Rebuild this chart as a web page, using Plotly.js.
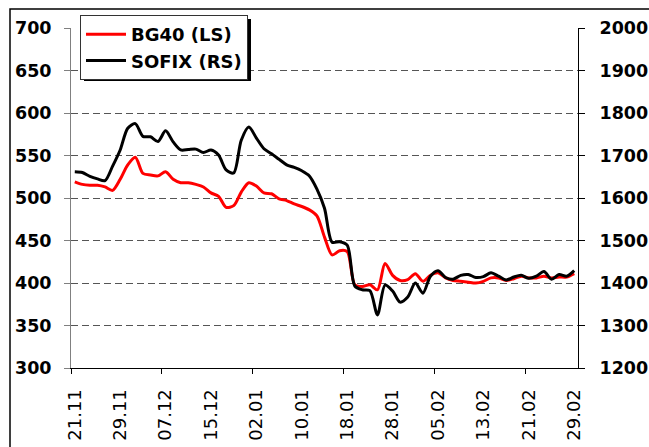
<!DOCTYPE html>
<html><head><meta charset="utf-8">
<script src="https://cdn.plot.ly/plotly-3.0.1.min.js"></script>
<style>html,body{margin:0;padding:0;background:#fff}#chart{width:649px;height:447px}</style>
</head><body><div id="chart"></div>
<script>
// Category labels shown on the axis (every 6th trading day)
const tickLabels = ['21.11','29.11','07.12','15.12','02.01','10.01','18.01','28.01','05.02','13.02','21.02','29.02'];
const tickIndex  = [0, 6, 12, 18, 24, 30, 36, 42, 48, 54, 60, 66];
// Tick marks sit between categories, every 12 trading days
const tickMarkIndex = [-0.5, 11.5, 23.5, 35.5, 47.5, 59.5];

// BG40 index (left scale)
const bg40 = [519, 516, 515, 515, 513, 509, 522, 539, 548, 529, 527, 526,
              531, 522, 518, 518, 516, 513, 506, 502, 489, 491, 507, 518,
              514, 506, 505, 499, 497, 493, 490, 486, 479, 454, 433, 438,
              437, 398, 396, 398, 392, 423, 409, 403, 404, 411, 402, 409,
              412, 406, 403, 402, 401, 400, 402, 406, 406, 403, 405, 408,
              406, 406, 408, 406, 407, 407, 411];
// SOFIX index (right scale)
const sofix = [1662, 1660, 1651, 1645, 1641, 1675, 1713, 1764, 1775, 1745, 1744, 1733,
               1758, 1732, 1713, 1714, 1715, 1707, 1713, 1701, 1666, 1659, 1736, 1767,
               1741, 1716, 1704, 1691, 1678, 1672, 1664, 1652, 1621, 1576, 1496, 1497,
               1489, 1393, 1384, 1382, 1325, 1395, 1381, 1355, 1367, 1400, 1376, 1416,
               1429, 1413, 1409, 1418, 1420, 1413, 1415, 1424, 1416, 1407, 1414, 1418,
               1411, 1416, 1427, 1409, 1420, 1416, 1429];

const idx = bg40.map((_, i) => i);

// plot area in pixels
const L = 71, R = 578, T = 28, B = 368, W = 649, H = 447;
const px = x => (x - L) / (R - L);
const py = y => (B - y) / (B - T);

const fontFam = '"DejaVu Sans", Verdana, sans-serif';
const boldFont = {family: fontFam, size: 17.5, color: '#000', weight: 'bold'};
const legendFont = {family: fontFam, size: 18, color: '#000', weight: 'bold'};

const traces = [
  {x: idx, y: bg40, name: 'BG40 (LS)', type: 'scatter', mode: 'lines',
   line: {color: '#ff0000', width: 3, shape: 'spline', smoothing: 0.8}, xaxis: 'x', yaxis: 'y'},
  {x: idx, y: sofix, name: 'SOFIX (RS)', type: 'scatter', mode: 'lines',
   line: {color: '#000000', width: 3, shape: 'spline', smoothing: 0.8}, xaxis: 'x', yaxis: 'y2'}
];

const layout = {
  width: W, height: H,
  margin: {l: L, r: W - R, t: T, b: H - B},
  paper_bgcolor: '#fff', plot_bgcolor: '#fff',
  showlegend: true,
  legend: {x: px(80), y: py(15), xanchor: 'left', yanchor: 'top',
           bgcolor: '#fff', bordercolor: '#333', borderwidth: 1,
           font: legendFont, itemwidth: 40, tracegroupgap: 0},
  xaxis: {range: [-0.5, idx.length - 0.5], tickmode: 'array', tickvals: tickIndex, ticktext: tickLabels,
          tickangle: -90, ticks: '', showgrid: false, zeroline: false,
          showline: true, linecolor: '#000', linewidth: 1,
          tickfont: {family: fontFam, size: 18, color: '#000'}, ticklabelstandoff: 13,
          minor: {tickmode: 'array', tickvals: tickMarkIndex, ticks: 'outside', ticklen: 5,
                  tickcolor: '#000', tickwidth: 1, showgrid: false}},
  yaxis: {range: [300, 700], dtick: 50, tick0: 300, ticks: 'outside', ticklen: 6, tickcolor: '#808080',
          showline: true, linecolor: '#808080', linewidth: 1, zeroline: false,
          showgrid: true, gridcolor: '#555', griddash: '7px,4px', gridwidth: 1,
          tickfont: boldFont, ticklabelstandoff: 9},
  yaxis2: {range: [1200, 2000], dtick: 100, tick0: 1200, overlaying: 'y', side: 'right', anchor: 'x',
           ticks: 'outside', ticklen: 6, tickcolor: '#000',
           showline: true, linecolor: '#000', linewidth: 1, zeroline: false, showgrid: false,
           tickfont: boldFont, ticklabelstandoff: 11},
  shapes: [
    // legend shadow
    {type: 'rect', xref: 'paper', yref: 'paper', x0: px(84), x1: px(251), y0: py(81), y1: py(19),
     fillcolor: '#000', line: {width: 0}, layer: 'above'},
    // outer chart frame
    {type: 'rect', xref: 'paper', yref: 'paper', x0: px(10), x1: px(700), y0: py(500), y1: py(9),
     line: {color: '#000', width: 1.5}, fillcolor: 'rgba(0,0,0,0)', layer: 'above'}
  ]
};

Plotly.newPlot('chart', traces, layout, {displayModeBar: false, staticPlot: true});
</script>
</body></html>
